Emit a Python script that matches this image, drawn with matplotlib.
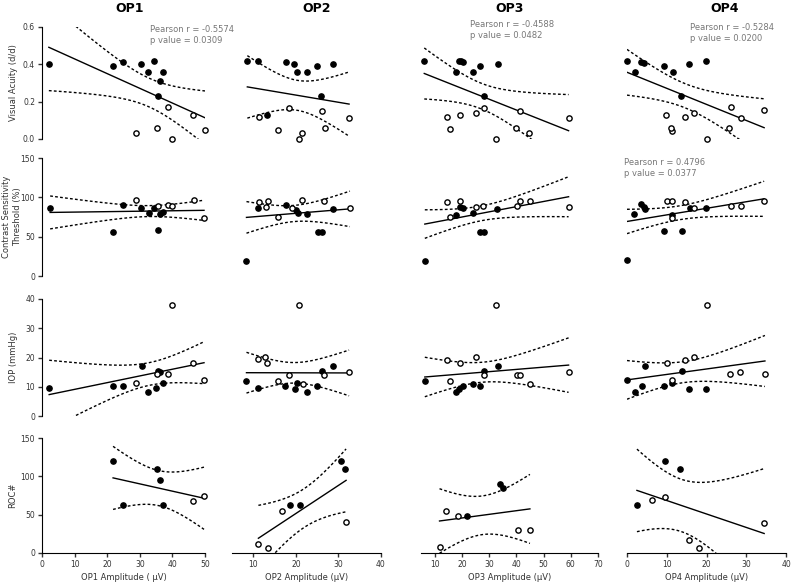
import numpy as np
import matplotlib.pyplot as plt

# ---- row 1: visual acuity (d/d) ----
va1_fx = [2.1, 21.8, 24.8, 30.4, 32.5, 34.4, 37.1, 36.2, 35.6]
va1_fy = [0.40, 0.39, 0.415, 0.40, 0.36, 0.42, 0.36, 0.31, 0.23]
va1_ox = [38.7, 46.3, 28.8, 35.3, 39.9, 50.0]
va1_oy = [0.17, 0.13, 0.03, 0.06, 0.0, 0.05]

va2_fx = [8.6, 11.1, 17.7, 19.6, 20.3, 22.6, 25.0, 28.7, 26.0, 13.2]
va2_fy = [0.42, 0.42, 0.415, 0.40, 0.36, 0.36, 0.39, 0.40, 0.23, 0.13]
va2_ox = [11.3, 18.5, 26.2, 32.5, 15.8, 21.5, 20.7, 26.9]
va2_oy = [0.12, 0.166, 0.15, 0.11, 0.05, 0.03, 0.0, 0.06]

va3_fx = [6.2, 18.8, 20.4, 19.8, 26.8, 33.1, 17.9, 24.2, 28.2]
va3_fy = [0.42, 0.42, 0.41, 0.42, 0.39, 0.40, 0.36, 0.36, 0.23]
va3_ox = [28.2, 41.2, 59.2, 14.6, 19.2, 25.2, 15.5, 39.9, 44.6, 32.4]
va3_oy = [0.166, 0.15, 0.11, 0.12, 0.13, 0.14, 0.054, 0.06, 0.03, 0.0]

va4_fx = [0.0, 3.5, 4.3, 9.4, 11.5, 15.7, 19.8, 2.1, 13.7]
va4_fy = [0.42, 0.415, 0.405, 0.39, 0.36, 0.40, 0.42, 0.36, 0.23]
va4_ox = [9.8, 14.6, 16.9, 26.1, 34.5, 28.6, 11.2, 11.1, 25.7, 20.1]
va4_oy = [0.13, 0.12, 0.14, 0.17, 0.157, 0.115, 0.043, 0.06, 0.06, 0.0]

# ---- row 2: contrast sensitivity threshold (%) ----
cs1_fx = [2.5, 24.8, 21.8, 35.6, 32.8, 36.2, 37.1, 30.4, 34.4]
cs1_fy = [87, 90, 56, 58, 80, 79, 81, 86, 86]
cs1_ox = [28.8, 35.5, 38.7, 39.9, 46.6, 49.7]
cs1_oy = [97, 89, 90, 89, 96, 74]

cs2_fx = [11.0, 17.7, 20.1, 20.6, 22.6, 28.7, 8.4, 25.3, 26.1]
cs2_fy = [86, 90, 84, 80, 79, 85, 19.5, 56, 56]
cs2_ox = [11.3, 13.4, 12.9, 21.4, 26.5, 15.8, 32.7, 19.1]
cs2_oy = [94, 95, 88, 96.6, 95, 74.5, 87, 86]

cs3_fx = [19.5, 20.4, 17.9, 24.2, 32.8, 26.8, 28.2, 6.4]
cs3_fy = [88, 86, 77.5, 80, 85, 56, 56, 19.5]
cs3_ox = [14.6, 19.5, 25.1, 27.9, 41.2, 45.1, 59.2, 15.5, 40.2]
cs3_oy = [93.6, 95.7, 88, 89, 95, 95, 88, 75, 89]

cs4_fx = [1.8, 3.5, 4.2, 4.6, 11.3, 15.9, 19.8, 9.4, 13.8, 0.0]
cs4_fy = [79, 91, 88, 85, 77.5, 86, 86, 57.6, 57.6, 20]
cs4_ox = [10.1, 11.3, 14.6, 11.3, 16.9, 26.1, 28.6, 34.5]
cs4_oy = [95.7, 95.7, 94.4, 74, 86, 89, 89, 95]

# ---- row 3: IOP (mmHg) ----
iop1_fx = [2.2, 21.9, 24.8, 30.6, 32.4, 34.9, 35.7, 36.2, 37.2]
iop1_fy = [9.5, 10.3, 10.3, 17.2, 8.2, 9.6, 15.5, 15.2, 11.3]
iop1_ox = [28.8, 39.8, 35.4, 38.6, 46.4, 49.7]
iop1_oy = [11.3, 38, 14.4, 14.4, 18.1, 12.4]

iop2_fx = [8.4, 11.0, 17.5, 19.7, 20.2, 22.6, 24.9, 26.1, 28.7]
iop2_fy = [12, 9.6, 10.3, 9.3, 11.3, 8.2, 10.3, 15.5, 17.2]
iop2_ox = [11.0, 12.8, 13.2, 20.7, 18.5, 15.9, 21.6, 26.5, 32.5]
iop2_oy = [19.5, 20.1, 18.1, 38, 14.1, 12, 11, 14.1, 15.2]

iop3_fx = [6.4, 17.9, 18.8, 20.4, 24.2, 26.8, 28.2, 33.2]
iop3_fy = [12, 8.2, 9.3, 10.1, 11, 10.3, 15.5, 17.2]
iop3_ox = [14.6, 19.2, 25.2, 32.6, 28.2, 15.5, 40.2, 41.5, 45.1, 59.2]
iop3_oy = [19.2, 18.1, 20.1, 38, 14.1, 12, 14.1, 14.1, 11, 15.2]

iop4_fx = [0.0, 2.1, 3.8, 4.5, 9.4, 13.8, 15.7, 19.8, 11.3]
iop4_fy = [12.2, 8.1, 10.3, 17.2, 10.3, 15.5, 9.3, 9.3, 11.3]
iop4_ox = [10.1, 11.3, 14.6, 16.9, 20.1, 26.0, 28.5, 34.7]
iop4_oy = [18.1, 12.4, 19.2, 20.1, 38, 14.3, 15.2, 14.3]

# ---- row 4: ROC# ----
roc1_fx = [21.8, 24.8, 35.3, 36.2, 37.1]
roc1_fy = [120, 62, 110, 95, 62]
roc1_ox = [46.3, 49.7]
roc1_oy = [68, 75]

roc2_fx = [18.7, 21.0, 30.5, 31.5]
roc2_fy = [62, 62, 120, 110]
roc2_ox = [11.2, 13.5, 16.8, 31.8]
roc2_oy = [12, 6, 55, 40]

roc3_fx = [21.8, 33.9, 35.0]
roc3_fy = [48, 90, 85]
roc3_ox = [11.8, 14.0, 18.5, 40.5, 45.0]
roc3_oy = [8, 55, 48, 30, 30]

roc4_fx = [2.5, 9.5, 13.3]
roc4_fy = [62, 120, 110]
roc4_ox = [6.3, 9.5, 15.7, 18.2, 34.5]
roc4_oy = [69, 73, 17, 6, 39]

col_titles = ["OP1", "OP2", "OP3", "OP4"]
row_labels = ["Visual Acuity (d/d)", "Contrast Sensitivity\nThreshold (%)", "IOP (mmHg)", "ROC#"]
x_labels = ["OP1 Amplitude ( \u03bcV)", "OP2 Amplitude (\u03bcV)", "OP3 Amplitude (\u03bcV)", "OP4 Amplitude (\u03bcV)"]
x_ticks = [[0, 10, 20, 30, 40, 50], [10, 20, 30, 40], [10, 20, 30, 40, 50, 60, 70], [0, 10, 20, 30, 40]]
y_ticks = [[0.0, 0.2, 0.4, 0.6], [0, 50, 100, 150], [0, 10, 20, 30, 40], [0, 50, 100, 150]]
y_ticklabels = [["0.0", "0.2", "0.4", "0.6"], None, None, None]
x_lims = [(0, 50), (5, 40), (5, 70), (0, 40)]
y_lims = [(0, 0.6), (0, 150), (0, 40), (0, 150)]

# (row, col, text)
stats = [
    (0, 0, "Pearson r = -0.5574\np value = 0.0309"),
    (0, 2, "Pearson r = -0.4588\np value = 0.0482"),
    (0, 3, "Pearson r = -0.5284\np value = 0.0200"),
    (1, 3, "Pearson r = 0.4796\np value = 0.0377"),
]
stat_pos = [(150, 25), (470, 20), (690, 23), (624, 158)]
title_x = [130, 317, 510, 725]
ylabel_px = [13, 12, 13, 13]

panels = [
    [(va1_fx, va1_fy, va1_ox, va1_oy), (va2_fx, va2_fy, va2_ox, va2_oy),
     (va3_fx, va3_fy, va3_ox, va3_oy), (va4_fx, va4_fy, va4_ox, va4_oy)],
    [(cs1_fx, cs1_fy, cs1_ox, cs1_oy), (cs2_fx, cs2_fy, cs2_ox, cs2_oy),
     (cs3_fx, cs3_fy, cs3_ox, cs3_oy), (cs4_fx, cs4_fy, cs4_ox, cs4_oy)],
    [(iop1_fx, iop1_fy, iop1_ox, iop1_oy), (iop2_fx, iop2_fy, iop2_ox, iop2_oy),
     (iop3_fx, iop3_fy, iop3_ox, iop3_oy), (iop4_fx, iop4_fy, iop4_ox, iop4_oy)],
    [(roc1_fx, roc1_fy, roc1_ox, roc1_oy), (roc2_fx, roc2_fy, roc2_ox, roc2_oy),
     (roc3_fx, roc3_fy, roc3_ox, roc3_oy), (roc4_fx, roc4_fy, roc4_ox, roc4_oy)],
]

W, H = 800, 583
col_px = [(42, 205), (232, 381), (421, 598), (627, 786)]
row_px = [(27, 139), (158, 276), (299, 416), (438, 553)]

fig = plt.figure(figsize=(W / 100, H / 100), dpi=100)


def fit_band(x, y):
    x = np.asarray(x, float)
    y = np.asarray(y, float)
    n = len(x)
    b, a = np.polyfit(x, y, 1)
    res = y - (a + b * x)
    df = n - 2
    s = np.sqrt(np.sum(res ** 2) / df)
    sxx = np.sum((x - x.mean()) ** 2)
    t = 1.96 + 2.4 / df + 2.6 / df ** 2
    xs = np.linspace(x.min(), x.max(), 100)
    yh = a + b * xs
    half = t * s * np.sqrt(1 / n + (xs - x.mean()) ** 2 / sxx)
    return xs, yh, yh - half, yh + half


for r in range(4):
    for c in range(4):
        x0, x1 = col_px[c]
        y0, y1 = row_px[r]
        ax = fig.add_axes([x0 / W, 1 - y1 / H, (x1 - x0) / W, (y1 - y0) / H])
        ax.patch.set_alpha(0)
        fx, fy, ox, oy = panels[r][c]
        xs, yh, lo, hi = fit_band(list(fx) + list(ox), list(fy) + list(oy))
        ax.plot(xs, yh, color="black", lw=1.0)
        ax.plot(xs, lo, color="black", lw=1.0, ls=(0, (2, 1.6)))
        ax.plot(xs, hi, color="black", lw=1.0, ls=(0, (2, 1.6)))
        ax.plot(fx, fy, "o", ms=3.8, mfc="black", mec="black", clip_on=False)
        ax.plot(ox, oy, "o", ms=3.8, mfc="white", mec="black", mew=1.0, clip_on=False)
        ax.set_xlim(*x_lims[c])
        ax.set_ylim(*y_lims[r])
        for s in ["top", "right"]:
            ax.spines[s].set_visible(False)
        ax.spines["left"].set_visible(c == 0)
        ax.spines["bottom"].set_visible(r == 3)
        ax.tick_params(labelsize=5.5, length=3, width=1, colors="#333333", pad=2)
        if c == 0:
            ax.set_yticks(y_ticks[r])
            if y_ticklabels[r]:
                ax.set_yticklabels(y_ticklabels[r])
            ax.set_ylabel(row_labels[r], fontsize=6, color="#333333", linespacing=1.2,
                          va="center", ha="center")
            ax.yaxis.set_label_coords((ylabel_px[r] - x0) / (x1 - x0), 0.5)
        else:
            ax.set_yticks([])
        if r == 3:
            ax.set_xticks(x_ticks[c])
            ax.set_xlabel(x_labels[c], fontsize=6, color="#333333", labelpad=3)
        else:
            ax.set_xticks([])

for c in range(4):
    fig.text(title_x[c] / W, 1 - 9 / H, col_titles[c], fontsize=9, fontweight="bold",
             ha="center", va="center")

for (r, c, txt), (px, py) in zip(stats, stat_pos):
    fig.text(px / W, 1 - py / H, txt, fontsize=6, color="#777777",
             va="top", ha="left", linespacing=1.3)

fig.savefig("out.png", dpi=100)
